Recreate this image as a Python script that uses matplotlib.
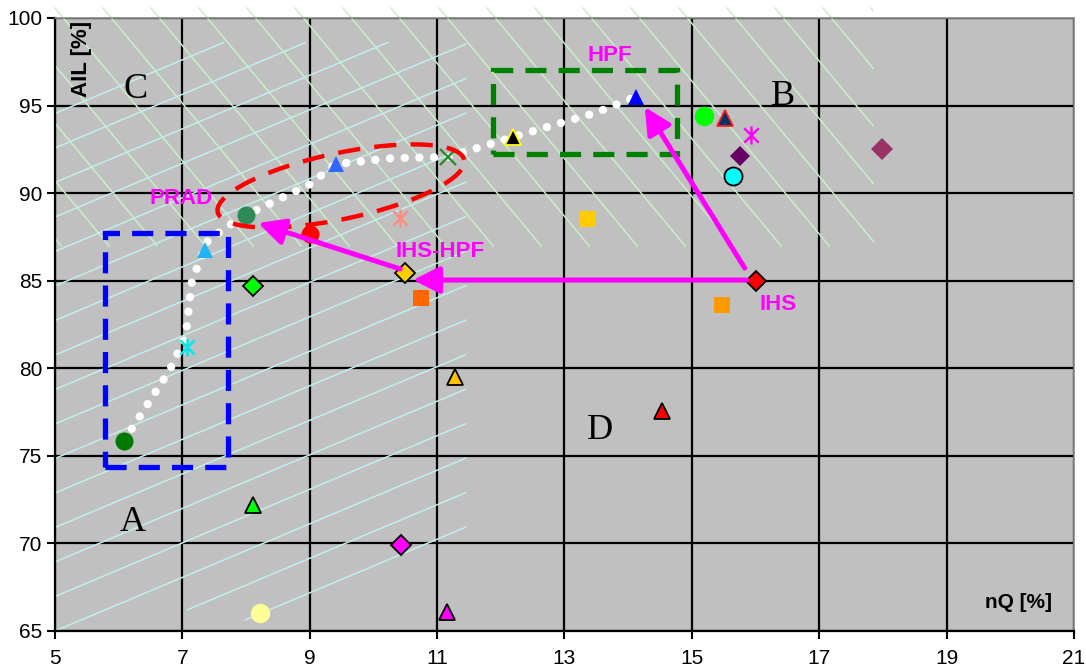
#!/usr/bin/env python3
"""
Scatter of AIL vs nQ for the fusion methods, with zone letters,
highlighted groups and the IHS -> HPF / IHS-HPF -> PRAD moves.
"""

import numpy as np
import matplotlib
matplotlib.use("Agg")
import matplotlib.pyplot as plt
from matplotlib.path import Path
from matplotlib.patches import Rectangle

plt.rcParams['font.family'] = ['Liberation Sans', 'DejaVu Sans']

# Points: nQ [%] (x) and AIL [%] (y)
nq = [6.08, 7.07, 7.35, 8.00, 9.00, 9.41, 11.17, 10.42, 10.49, 10.75,
      8.11, 11.28, 12.19, 14.12, 13.35, 15.19, 15.52, 15.93, 15.75, 15.64,
      17.98, 16.00, 15.47, 14.53, 8.11, 10.43, 8.22, 11.15]
ail = [75.84, 81.2, 86.75, 88.75, 87.66, 91.66, 92.06, 88.58, 85.44, 84.0,
       84.7, 79.5, 93.2, 95.5, 88.5, 94.4, 94.3, 93.3, 92.1, 91.0,
       92.5, 85.0, 83.6, 77.56, 72.2, 69.9, 66.0, 66.08]

# Axis ticks
x_ticks = [5, 7, 9, 11, 13, 15, 17, 19, 21]
y_ticks = [65, 70, 75, 80, 85, 90, 95, 100]

# Route followed by the dotted white trail
route_nq = [6.08, 6.80, 7.05, 7.15, 7.40, 7.75, 8.00, 9.00, 9.41, 10.30, 11.17, 12.19, 13.50, 14.12]
route_ail = [75.84, 79.90, 81.80, 85.00, 87.30, 88.20, 88.75, 90.50, 91.66, 92.00, 92.06, 93.20, 94.60, 95.50]

# Arrows: tail -> head
arrow_from = [(15.86, 85.04), (10.42, 85.67), (15.83, 85.72)]
arrow_to = [(10.62, 85.04), (8.19, 88.29), (14.26, 94.92)]

# Group boxes (x0, x1, y0, y1)
box_a = (5.785, 7.716, 74.36, 87.72)
box_hpf = (11.88, 14.76, 92.23, 97.03)

# Method labels
method_labels = ['HPF', 'PRAD', 'IHS-HPF', 'IHS']
method_x = [13.71, 6.98, 11.04, 16.35]
method_y = [97.85, 89.72, 86.64, 83.67]

# Zone letters
zones = ['A', 'B', 'C', 'D']
zone_x = [6.22, 16.43, 6.26, 13.56]
zone_y = [71.22, 95.49, 95.89, 76.47]

# asterisk marker: vertical bar plus an X
ASTER = Path([(0, -1), (0, 1), (-0.8, -0.8), (0.8, 0.8), (-0.8, 0.8), (0.8, -0.8)],
             [Path.MOVETO, Path.LINETO] * 3)

# marker, face, edge, size for each point
styles = [
    ('o', '#007a00', 'none', 13),
    (ASTER, 'none', '#00e8f0', 13),
    ('^', '#1eb4f5', 'none', 12),
    ('o', '#2e8b57', 'none', 13),
    ('o', '#ff0000', 'none', 13),
    ('^', '#3366ff', 'none', 12),
    ('x', 'none', '#2e8b2e', 12),
    (ASTER, 'none', '#ff8c80', 13),
    ('D', '#ffcc00', 'black', 10),
    ('s', '#ff6600', 'none', 12),
    ('D', '#00ff00', 'black', 10),
    ('^', '#ffc000', 'black', 12),
    ('^', 'black', '#ffff00', 12),
    ('^', '#0000ff', 'none', 12),
    ('s', '#ffcc00', 'none', 12),
    ('o', '#00ff00', 'none', 14),
    ('^', '#003366', '#ff2020', 12),
    (ASTER, 'none', '#ff00ff', 13),
    ('D', '#660066', 'none', 10),
    ('o', '#00ffff', 'black', 13),
    ('D', '#993366', 'none', 11),
    ('D', '#ff0000', 'black', 10),
    ('s', '#ff9900', 'none', 12),
    ('^', '#ff0000', 'black', 12),
    ('^', '#00ff00', 'black', 12),
    ('D', '#ff00ff', 'black', 10),
    ('o', '#ffff99', 'none', 14),
    ('^', '#ff00ff', 'black', 12),
]

fig = plt.figure(figsize=(10.86, 6.70), dpi=100)
ax = fig.add_axes([0.05064, 0.05821, 0.93831, 0.91493])
ax.set_facecolor('#c0c0c0')
ax.set_xlim(5, 21)
ax.set_ylim(65, 100)
ax.set_xticks(x_ticks)
ax.set_yticks(y_ticks)
ax.tick_params(labelsize=15, length=6, width=1.5, colors='black', pad=3)
ax.tick_params(axis='x', pad=7)
ax.grid(True, color='black', lw=1.6, zorder=0.5)
ax.set_axisbelow(True)
for side in ('left', 'bottom'):
    ax.spines[side].set_linewidth(1.6)
    ax.spines[side].set_color('black')
for side in ('top', 'right'):
    ax.spines[side].set_linewidth(1.2)
    ax.spines[side].set_color('#8a8a8a')

# --- hatching ---
# pale green "\" lines across the upper band
GREEN_TOP, GREEN_BOT, GREEN_RIGHT = 100.57, 87.0, 17.85
g_slope = -4.365
for k in range(-5, 18):
    x0 = 5 + 0.7537 * k
    xa = max(x0, 5.0)
    xb = min(x0 + (GREEN_BOT - GREEN_TOP) / g_slope, GREEN_RIGHT)
    if xa >= xb:
        continue
    ya, yb = GREEN_TOP + g_slope * (xa - x0), GREEN_TOP + g_slope * (xb - x0)
    ax.plot([xa, xb], [ya, yb], color='#c8f0c8', lw=1.1, zorder=1.5, clip_on=False)

# pale cyan "/" lines across the left band
CYAN_TOP, CYAN_RIGHT = 98.6, 11.45
c_slope = 1.53
cyan_start = {-2: 7.99, -1: 7.08}
for k in range(-2, 16):
    y0 = 65 + 1.97 * k
    xa = cyan_start.get(k, 5.0)
    xb = min(CYAN_RIGHT, 5 + (CYAN_TOP - y0) / c_slope)
    ax.plot([xa, xb], [y0 + c_slope * (xa - 5), y0 + c_slope * (xb - 5)],
            color='#c2eeee', lw=1.1, zorder=1.5)

# dotted trail
ax.plot(route_nq, route_ail, color='white', lw=6.0, linestyle=(0, (0.01, 1.75)),
        dash_capstyle='round', zorder=2.5)

# points
for x, y, (m, fc, ec, ms) in zip(nq, ail, styles):
    lw_edge = 1.7 if fc == 'none' else 1.3
    ax.plot(x, y, linestyle='none', marker=m, markersize=ms,
            markerfacecolor=fc, markeredgecolor=ec, markeredgewidth=lw_edge, zorder=3)

# dashed group boxes
for (x0, x1, y0, y1), col in ((box_a, '#0000ff'), (box_hpf, '#008000')):
    ax.add_patch(Rectangle((x0, y0), x1 - x0, y1 - y0, fill=False, edgecolor=col,
                           lw=3.8, linestyle=(0, (4.0, 2.3)), zorder=4))

# dashed ellipse around the PRAD group, built in pixel space
center = ax.transData.transform((9.49, 90.41))
t = np.linspace(0, 2 * np.pi, 200)
a_px, b_px, ang = 126, 33, np.deg2rad(12)
ex = a_px * np.cos(t) * np.cos(ang) - b_px * np.sin(t) * np.sin(ang)
ey = a_px * np.cos(t) * np.sin(ang) + b_px * np.sin(t) * np.cos(ang)
ell = ax.transData.inverted().transform(np.column_stack([center[0] + ex, center[1] + ey]))
ax.plot(ell[:, 0], ell[:, 1], color='#ff0000', lw=3.2, linestyle=(0, (5, 3.2)), zorder=4)

# arrows
for tail, head in zip(arrow_from, arrow_to):
    ax.annotate('', xy=head, xytext=tail,
                arrowprops=dict(arrowstyle='-|>,head_length=0.8,head_width=0.4',
                                color='#ff00ff', lw=3.6, mutation_scale=20,
                                shrinkA=0, shrinkB=0),
                zorder=5)

for txt, x, y in zip(method_labels, method_x, method_y):
    ax.text(x, y, txt, color='#ff00ff', fontsize=16, fontweight='bold',
            ha='center', va='center', zorder=6)

for txt, x, y in zip(zones, zone_x, zone_y):
    ax.text(x, y, txt, color='black', fontsize=26, family='Liberation Serif',
            ha='center', va='center', zorder=6)

ax.text(0.0265, 0.995, 'AIL [%]', transform=ax.transAxes, rotation=90,
        fontsize=16, fontweight='bold', ha='center', va='top', zorder=6)
ax.text(0.978, 0.046, 'nQ [%]', transform=ax.transAxes,
        fontsize=15, fontweight='bold', ha='right', va='center', zorder=6)

fig.savefig('out.png', dpi=100)
